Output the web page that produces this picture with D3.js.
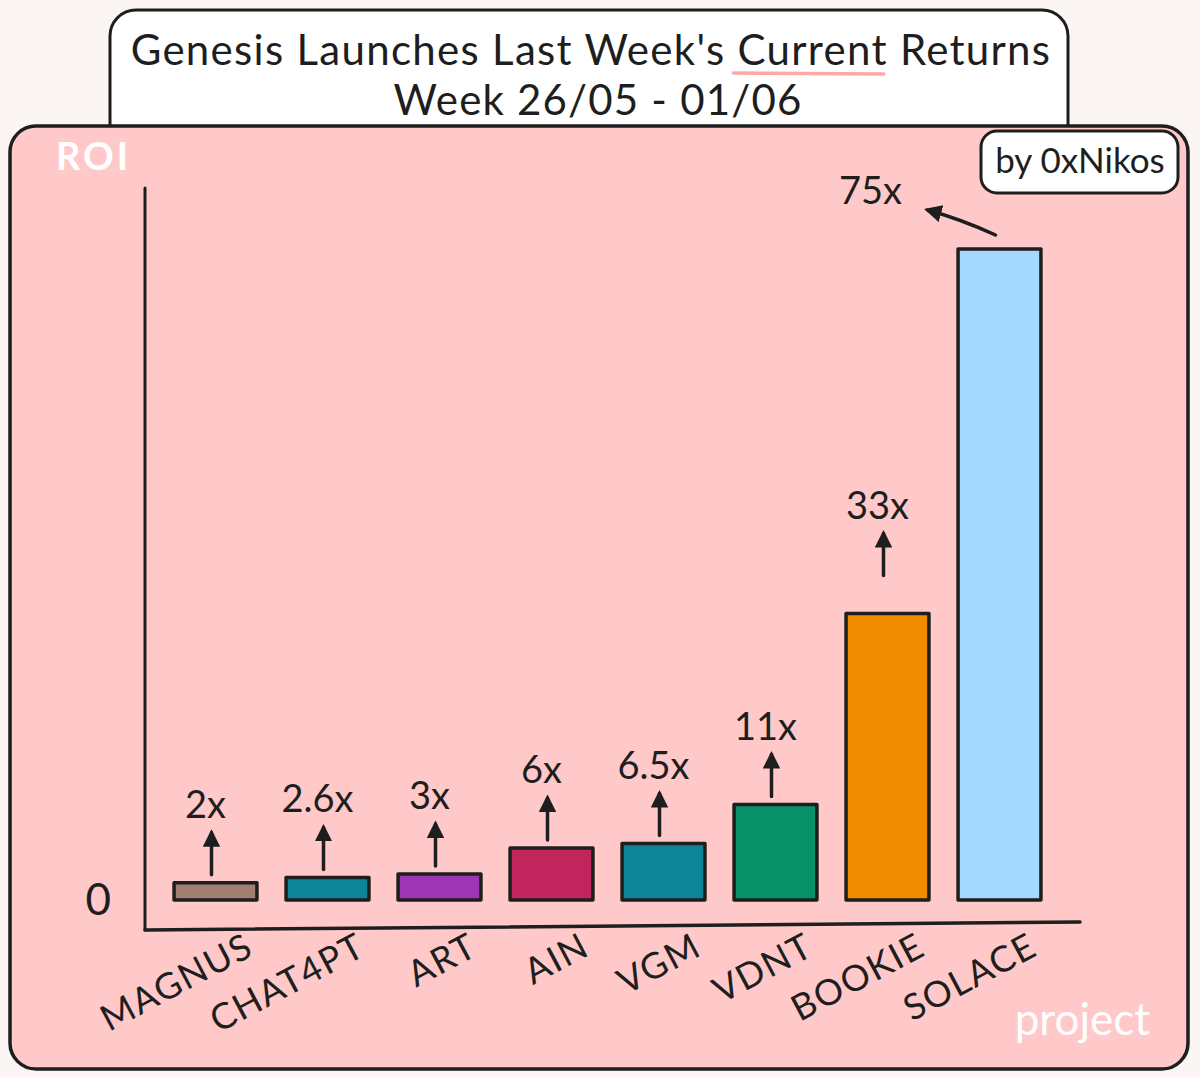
<!DOCTYPE html>
<html>
<head>
<meta charset="utf-8">
<script src="https://cdn.jsdelivr.net/npm/d3@7"></script>
<style>
  html, body { margin: 0; padding: 0; background: #fbf5f3; }
  svg { display: block; }
  text { font-family: "Lato", "Noto Sans", sans-serif; }
</style>
</head>
<body>
<svg id="chart" width="1200" height="1077"></svg>
<script>
// data
var projects = ["MAGNUS", "CHAT4PT", "ART", "AIN", "VGM", "VDNT", "BOOKIE", "SOLACE"];
var roi = [2, 2.6, 3, 6, 6.5, 11, 33, 75];
var roiLabels = ["2x", "2.6x", "3x", "6x", "6.5x", "11x", "33x", "75x"];
var barColors = ["#a18072", "#0c8599", "#9c36b5", "#c2255c", "#0c8599", "#099268", "#f08c00", "#a5d8ff"];
var yTicks = [0];

var title1 = "Genesis Launches Last Week's ";
var titleUnder = "Current";
var title2 = " Returns";
var subtitle = "Week 26/05 - 01/06";

var ink = "#1e1e1e";
var svg = d3.select("#chart");

var x = d3.scaleBand().domain(projects).range([159.5, 1055.5]).paddingInner(0.26).paddingOuter(0.13);
var y = d3.scaleLinear().domain([0, d3.max(roi)]).range([900, 249]);

// arrow head
svg.append("defs").append("marker")
    .attr("id", "head")
    .attr("viewBox", "0 0 10 10")
    .attr("refX", 8).attr("refY", 5)
    .attr("markerWidth", 5).attr("markerHeight", 5)
    .attr("markerUnits", "strokeWidth")
    .attr("orient", "auto")
    .append("path").attr("d", "M0,0 L10,5 L0,10 Z").attr("fill", ink);

// title card
svg.append("rect")
    .attr("x", 110).attr("y", 10).attr("width", 958).attr("height", 160)
    .attr("rx", 26).attr("fill", "#ffffff").attr("stroke", ink).attr("stroke-width", 3);

var t = svg.append("text").attr("x", 591).attr("y", 65).attr("text-anchor", "middle")
    .attr("font-size", 42).attr("letter-spacing", 1.3).attr("fill", ink);
t.append("tspan").text(title1);
t.append("tspan").attr("id", "under").text(titleUnder);
t.append("tspan").text(title2);

svg.append("text").attr("x", 598).attr("y", 115).attr("text-anchor", "middle")
    .attr("font-size", 42).attr("letter-spacing", 1.2).attr("fill", ink).text(subtitle);

// pink panel
svg.append("rect")
    .attr("x", 10).attr("y", 126).attr("width", 1178).attr("height", 943)
    .attr("rx", 26).attr("fill", "#ffc9c9").attr("stroke", ink).attr("stroke-width", 3.5);

// underline under "Current", drawn behind the title text
var ub = document.getElementById("under").getBBox();
svg.append("line")
    .attr("x1", ub.x - 4).attr("x2", ub.x + ub.width - 4)
    .attr("y1", 73).attr("y2", 74)
    .attr("stroke", "#ffa8a8").attr("stroke-width", 3.5).attr("stroke-linecap", "round");
svg.node().appendChild(t.node());

// signature card
svg.append("rect")
    .attr("x", 981).attr("y", 131).attr("width", 197).attr("height", 62)
    .attr("rx", 16).attr("fill", "#ffffff").attr("stroke", ink).attr("stroke-width", 3);
svg.append("text").attr("x", 1080).attr("y", 173).attr("text-anchor", "middle")
    .attr("font-size", 35).attr("fill", ink).text("by 0xNikos");

// axis titles
svg.append("text").attr("x", 56).attr("y", 170).attr("font-size", 38).attr("font-weight", 700)
    .attr("letter-spacing", 3).attr("fill", "#ffffff").text("ROI");
svg.append("text").attr("x", 1150).attr("y", 1035).attr("text-anchor", "end").attr("font-size", 44)
    .attr("fill", "#ffffff").text("project");

// axis lines
svg.append("line").attr("x1", 145).attr("y1", 188).attr("x2", 145).attr("y2", 930)
    .attr("stroke", ink).attr("stroke-width", 3).attr("stroke-linecap", "round");
svg.append("line").attr("x1", 145).attr("y1", 930).attr("x2", 1080).attr("y2", 922)
    .attr("stroke", ink).attr("stroke-width", 3.5).attr("stroke-linecap", "round");

// y tick "0"
var yAxis = svg.append("g").attr("transform", "translate(145,0)")
    .call(d3.axisLeft(y).tickValues(yTicks).tickSize(0).tickPadding(34));
yAxis.select(".domain").remove();
yAxis.selectAll("text").attr("font-size", 44).attr("fill", ink).attr("font-family", "Lato, sans-serif");

// x labels
var xAxis = svg.append("g").attr("transform", "translate(0,930)")
    .call(d3.axisBottom(x).tickSize(0));
xAxis.select(".domain").remove();
xAxis.selectAll("text")
    .attr("font-size", 36).attr("letter-spacing", 1.5).attr("fill", ink).attr("font-family", "Lato, sans-serif")
    .attr("text-anchor", "end").attr("dy", null).attr("y", 0)
    .attr("transform", "translate(40,24) rotate(-28)");

// bars
svg.append("g").selectAll("rect").data(roi).enter().append("rect")
    .attr("x", (d, i) => x(projects[i]))
    .attr("y", (d) => y(d))
    .attr("width", x.bandwidth())
    .attr("height", (d) => y(0) - y(d))
    .attr("fill", (d, i) => barColors[i])
    .attr("stroke", ink).attr("stroke-width", 3.5).attr("stroke-linejoin", "round");

// arrows + labels (tallest bar gets the curved arrow off to the left)
var maxRoi = d3.max(roi);
var notes = svg.append("g");
roi.forEach(function(d, i) {
    var cx = x(projects[i]) + x.bandwidth() / 2 - 4;
    if (d === maxRoi) {
        var sy = y(d) - 14;
        notes.append("path")
            .attr("d", "M" + cx + "," + sy + " Q" + (cx - 35) + "," + (sy - 16) + " " + (cx - 68) + "," + (sy - 25))
            .attr("fill", "none").attr("stroke", ink).attr("stroke-width", 3.5)
            .attr("stroke-linecap", "round").attr("marker-end", "url(#head)");
        notes.append("text").attr("x", cx - 125).attr("y", sy - 31).attr("text-anchor", "middle")
            .attr("font-size", 38).attr("fill", ink).text(roiLabels[i]);
        return;
    }
    var gap = d > 20 ? 38 : 8;
    var base = y(d) - gap;
    notes.append("line")
        .attr("x1", cx).attr("x2", cx).attr("y1", base).attr("y2", base - 42)
        .attr("stroke", ink).attr("stroke-width", 3.5).attr("stroke-linecap", "round")
        .attr("marker-end", "url(#head)");
    notes.append("text").attr("x", cx - 6).attr("y", base - 57).attr("text-anchor", "middle")
        .attr("font-size", 38).attr("fill", ink).text(roiLabels[i]);
});
</script>
</body>
</html>
